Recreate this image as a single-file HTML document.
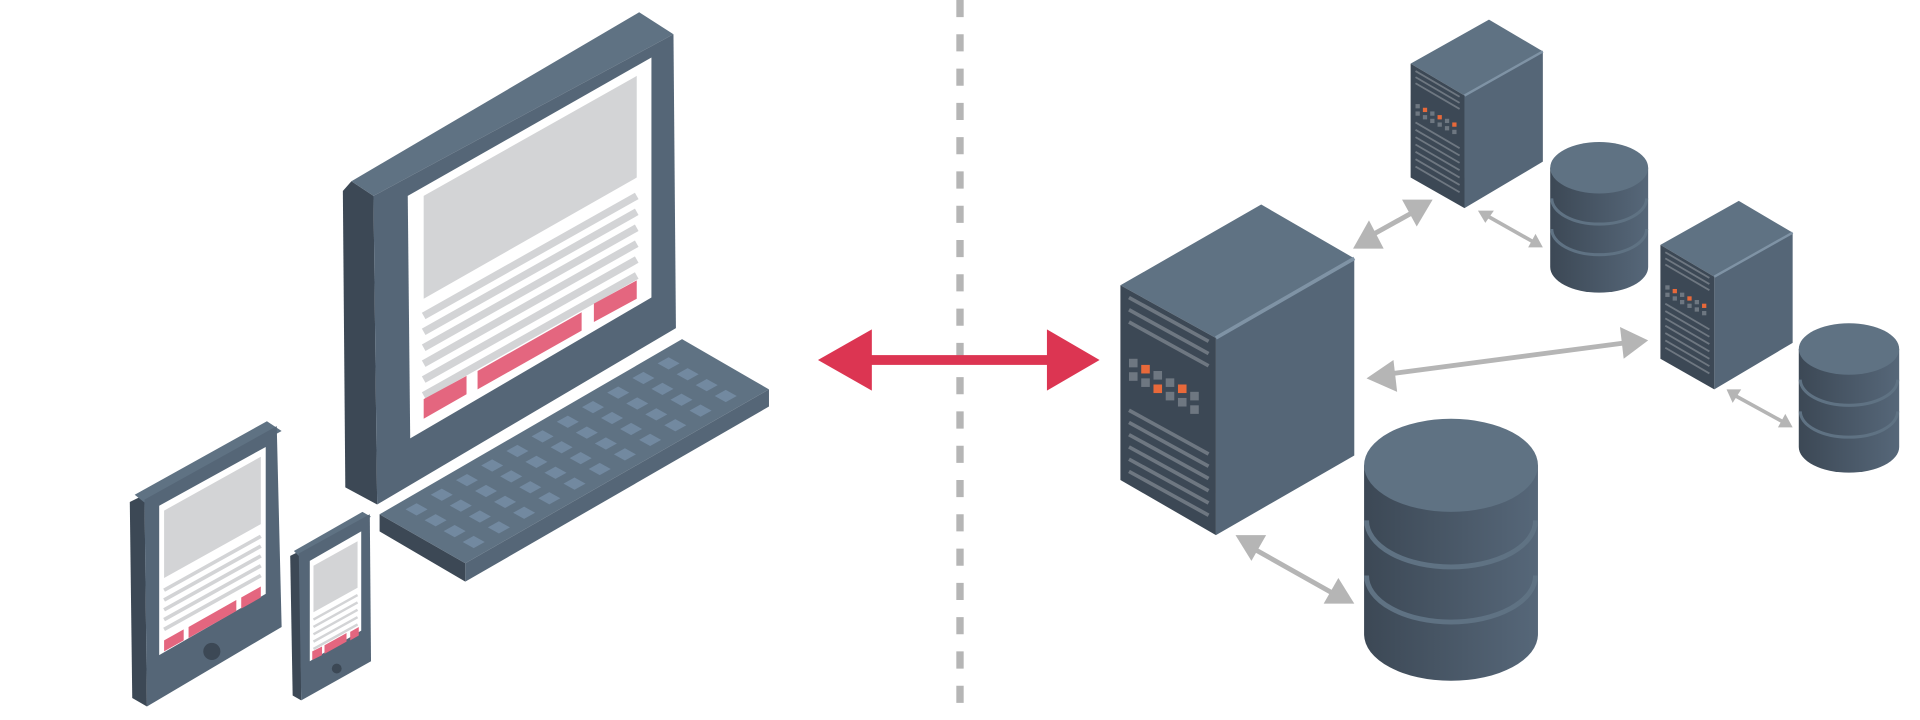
<!DOCTYPE html>
<html><head><meta charset="utf-8"><style>html,body{margin:0;padding:0;background:#fff;width:1920px;height:720px;overflow:hidden}svg{display:block}</style></head>
<body>
<svg id="s" width="1920" height="720" viewBox="0 0 1568 588" xmlns="http://www.w3.org/2000/svg">
<defs>
<linearGradient id="cyl" x1="0" x2="1" y1="0" y2="0"><stop offset="0" stop-color="#3c4855"/><stop offset="1" stop-color="#566779"/></linearGradient>
</defs>
<line x1="784" y1="0" x2="784" y2="588" stroke="#b5b5b5" stroke-width="6" stroke-dasharray="14 14"/>
<rect x="705" y="290" width="156" height="8" fill="#dc3552"/>
<polygon points="668,294 712,269 712,319" fill="#dc3552"/>
<polygon points="898,294 855,269 855,319" fill="#dc3552"/>

<!-- monitor -->
<polygon points="280,156 287,148 305,160 308,412 282,398" fill="#3c4855"/>
<polygon points="287,148 522,10 550,28 305,160" fill="#5f7283"/>
<polygon points="305,160 550,28 552,268 308,412" fill="#556677"/>
<polygon points="333,160 532,47 532,243 335,358" fill="#fff"/>
<polygon points="346,160 520,62 520,145 346,244" fill="#d3d4d6"/>
<g id="mlines" stroke="#d3d4d6" stroke-width="6"></g>
<polygon points="346,326 381,307 381,322 346,342" fill="#e4667f"/>
<polygon points="390,303 475,255 475,270 390,318" fill="#e4667f"/>
<polygon points="485,248 520,229 520,244 485,263" fill="#e4667f"/>
<!-- keyboard -->
<polygon points="310,420 380,460 380,475 310,434" fill="#3c4855"/>
<polygon points="380,460 628,318 628,332 380,475" fill="#556677"/>
<polygon points="310,420 557,277 628,318 380,460" fill="#5f7283"/>
<g id="keys" fill="#7289a0"></g>
<!-- tablet -->
<polygon points="106,410 118,404 120,577 108,570" fill="#3c4855"/>
<polygon points="110,404 218,344 230,352 120,412" fill="#5f7283"/>
<polygon points="118,408 226,348 230,512 120,577" fill="#556677"/>
<polygon points="130,413 217,365 217,485 130,535" fill="#fff"/>
<polygon points="134,417 213,373 213,428 134,472" fill="#d3d4d6"/>
<g id="tlines" stroke="#d3d4d6" stroke-width="3"></g>
<polygon points="134,523 150,514 150,523 134,532" fill="#e4667f"/>
<polygon points="154,512 193,490 193,499 154,521" fill="#e4667f"/>
<polygon points="197,488 213,479 213,488 197,497" fill="#e4667f"/>
<circle cx="173" cy="532" r="7" fill="#3c4855"/>
<!-- phone -->
<polygon points="237,454 245,450 246,572 239,568" fill="#3c4855"/>
<polygon points="240,450 296,418 303,422 245,455" fill="#5f7283"/>
<polygon points="244,452 302,420 303,540 246,572" fill="#556677"/>
<polygon points="253,458 295,434 295,515 253,540" fill="#fff"/>
<polygon points="256,462 292,442 292,480 256,500" fill="#d3d4d6"/>
<g id="plines" stroke="#d3d4d6" stroke-width="2"></g>
<polygon points="255,532 263,528 263,535 255,539" fill="#e4667f"/>
<polygon points="265,527 283,517 283,524 265,534" fill="#e4667f"/>
<polygon points="286,516 293,512 293,519 286,523" fill="#e4667f"/>
<circle cx="275" cy="546" r="4" fill="#3c4855"/>

<g stroke="#b5b5b5" stroke-width="4" fill="#b5b5b5">
<line x1="1115" y1="195" x2="1160" y2="170"/>
<polygon points="1105,203 1118,180 1130,203" stroke="none"/>
<polygon points="1170,163 1145,163 1157,185" stroke="none"/>
<line x1="1214" y1="176" x2="1253" y2="198" stroke-width="3"/>
<polygon points="1207,172 1220,172 1213,182" stroke="none"/>
<polygon points="1260,202 1248,202 1254,191" stroke="none"/>
<line x1="1130" y1="306" x2="1335" y2="279"/>
<polygon points="1116,309 1138,294 1141,320" stroke="none"/>
<polygon points="1346,278 1323,267 1326,293" stroke="none"/>
<line x1="1415" y1="322" x2="1457" y2="345" stroke-width="3"/>
<polygon points="1410,318 1422,318 1415,329" stroke="none"/>
<polygon points="1464,349 1452,349 1458,338" stroke="none"/>
<line x1="1020" y1="446" x2="1093" y2="487"/>
<polygon points="1009,437 1034,437 1022,458" stroke="none"/>
<polygon points="1106,493 1081,493 1093,472" stroke="none"/>
</g>

<polygon points="915,233 1030,167 1106,211 993,276" fill="#5f7283"/>
<polygon points="993,276 1106,211 1106,372 993,437" fill="#556677"/>
<line x1="993" y1="276" x2="1106" y2="211" stroke="#7f93a5" stroke-width="3"/>
<polygon points="915,233 993,276 993,437 915,392" fill="#3c4855"/>
<g id="sv" stroke="#6e7781" stroke-width="3"></g>
<g id="sq"></g>
<g id="s1"></g>
<g id="dbs"></g>
</svg>
<script>
const NS="http://www.w3.org/2000/svg";
function el(p,t,a){const e=document.createElementNS(NS,t);for(const k in a)e.setAttribute(k,a[k]);document.getElementById(p).appendChild(e);return e;}
for(let i=0;i<6;i++){let y=258+i*13;el('mlines','line',{x1:346,y1:y,x2:520,y2:y-98});}
for(let i=0;i<5;i++){let y=482+i*8;el('tlines','line',{x1:134,y1:y,x2:213,y2:y-44});}
for(let i=0;i<5;i++){let y=506+i*6;el('plines','line',{x1:256,y1:y,x2:292,y2:y-20});}
const A=[310,420],U=[247,-143],V=[70,40];
for(let j=0;j<4;j++)for(let i=0;i<11;i++){
 let u=(i+0.9)/12,v=(j+0.75)/4.5;
 let x=A[0]+U[0]*u+V[0]*v,y=A[1]+U[1]*u+V[1]*v;
 el('keys','polygon',{points:`${x-9},${y} ${x},${y-5} ${x+9},${y} ${x},${y+5}`});
}
function vents(g,x0,y0,x1,n,dy,sl){for(let i=0;i<n;i++){let y=y0+i*dy;el(g,'line',{x1:x0,y1:y,x2:x1,y2:y+(x1-x0)*sl});}}
vents('sv',922,243,987,3,10,0.55);
vents('sv',922,335,987,6,10,0.55);
const sq=[[922,293,0],[922,304,0],[932,298,1],[932,309,0],[942,303,0],[942,314,1],[952,309,0],[952,320,0],[962,314,1],[962,325,0],[972,320,0],[972,331,0]];
sq.forEach(s=>el('sq','rect',{x:s[0],y:s[1],width:7,height:7,fill:s[2]?'#e8693a':'#6e7781'}));
function small(x,y){
 el('s1','polygon',{points:`${x},${y} ${x+64},${y-36} ${x+108},${y-10} ${x+44},${y+26}`,fill:'#5f7283'});
 el('s1','polygon',{points:`${x+44},${y+26} ${x+108},${y-10} ${x+108},${y+80} ${x+44},${y+118}`,fill:'#556677'});
 el('s1','line',{x1:x+44,y1:y+26,x2:x+108,y2:y-10,stroke:'#7f93a5','stroke-width':2});
 el('s1','polygon',{points:`${x},${y} ${x+44},${y+26} ${x+44},${y+118} ${x},${y+93}`,fill:'#3c4855'});
 for(let i=0;i<3;i++){let yy=y+6+i*5;el('s1','line',{x1:x+4,y1:yy,x2:x+40,y2:yy+21,stroke:'#6e7781','stroke-width':1.5});}
 for(let i=0;i<7;i++){let yy=y+48+i*6;el('s1','line',{x1:x+4,y1:yy,x2:x+40,y2:yy+21,stroke:'#6e7781','stroke-width':1.5});}
 for(let i=0;i<6;i++){for(let k=0;k<2;k++){el('s1','rect',{x:x+4+i*6,y:y+33+i*3+k*6,width:3.5,height:3.5,fill:(k==0&&i%2==1)?'#e8693a':'#6e7781'});}}
}
small(1152,52);small(1356,200);
function db(cx,ty,rx,ry,by,bands,sw){
 el('dbs','path',{d:`M${cx-rx},${ty} L${cx-rx},${by} A${rx},${ry} 0 0 0 ${cx+rx},${by} L${cx+rx},${ty} Z`,fill:'url(#cyl)'});
 bands.forEach(b=>el('dbs','path',{d:`M${cx-rx+sw/2},${b} A${rx-sw/2},${ry} 0 0 0 ${cx+rx-sw/2},${b}`,fill:'none',stroke:'#5f7283','stroke-width':sw}));
 el('dbs','ellipse',{cx:cx,cy:ty,rx:rx,ry:ry,fill:'#5f7283'});
}
db(1185,380,71,38,518,[425,470],4);
db(1306,137,40,21,218,[162,187],2.5);
db(1510,285,41,21,365,[310,336],2.5);
</script>
</body></html>
